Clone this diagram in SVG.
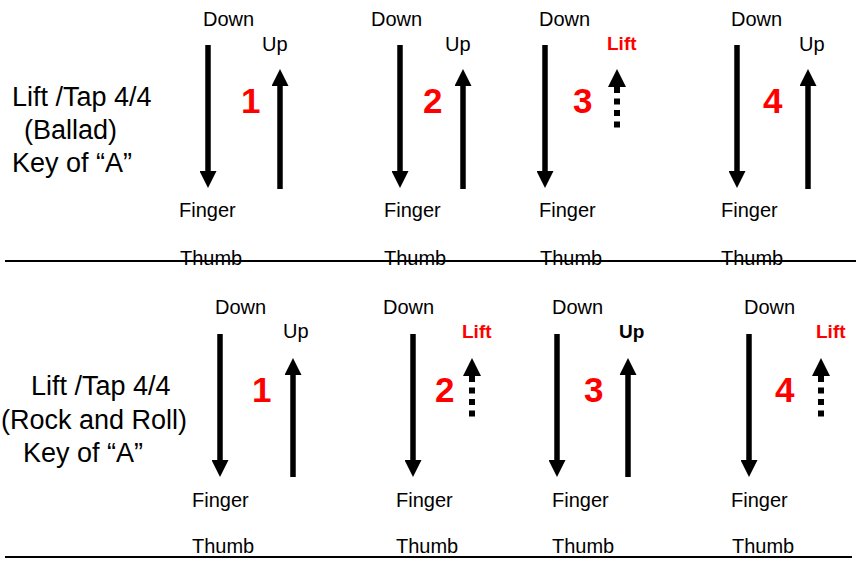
<svg xmlns="http://www.w3.org/2000/svg" width="856" height="561" viewBox="0 0 856 561">
<style>
text{font-family:"Liberation Sans",Arial,Helvetica,sans-serif;fill:#000}
.lbl{font-size:20px}
.title{font-size:27px}
.num{font-size:35px;font-weight:bold;fill:#ff0000}
.lift{font-size:19px;font-weight:bold;fill:#ff0000}
.upb{font-size:19px;font-weight:bold}
.sh{stroke:#000;stroke-width:5.5;fill:none}
.dsh{stroke:#000;stroke-width:6;fill:none;stroke-dasharray:6 5.5}
.rule{stroke:#000;stroke-width:2}
</style>
<defs>
<marker id="ah" markerUnits="userSpaceOnUse" viewBox="0 0 17 17" markerWidth="17" markerHeight="17" refX="0" refY="8.5" orient="auto">
<path d="M0,0 L17,8.5 L0,17 Z" fill="#000"/>
</marker>
<marker id="ahs" markerUnits="userSpaceOnUse" viewBox="0 0 18 18" markerWidth="18" markerHeight="18" refX="0" refY="9" orient="auto-start-reverse">
<path d="M0,0 L18,9 L0,18 Z" fill="#000"/>
</marker>
</defs>

<g id="rules">
<line class="rule" x1="5" y1="261" x2="856" y2="261"/>
<line class="rule" x1="5" y1="557" x2="852" y2="557"/>
</g>

<g id="title-ballad">
<text class="title" x="12" y="106">Lift /Tap 4/4</text>
<text class="title" x="24" y="139">(Ballad)</text>
<text class="title" x="12" y="172">Key of “A”</text>
</g>
<g id="title-rock">
<text class="title" x="31" y="395">Lift /Tap 4/4</text>
<text class="title" x="1" y="429">(Rock and Roll)</text>
<text class="title" x="23" y="462">Key of “A”</text>
</g>

<g id="connectors">
<!-- top row -->
<path class="sh" d="M208,45 V171" marker-end="url(#ah)"/>
<path class="sh" d="M280,189 V86" marker-end="url(#ah)"/>
<path class="sh" d="M400,45 V171" marker-end="url(#ah)"/>
<path class="sh" d="M463,189 V86" marker-end="url(#ah)"/>
<path class="sh" d="M545,45 V171" marker-end="url(#ah)"/>
<path class="dsh" d="M617,87 V128" marker-start="url(#ahs)"/>
<path class="sh" d="M737,45 V171" marker-end="url(#ah)"/>
<path class="sh" d="M808,189 V86" marker-end="url(#ah)"/>
<!-- bottom row -->
<path class="sh" d="M220,334 V460" marker-end="url(#ah)"/>
<path class="sh" d="M293,477 V375" marker-end="url(#ah)"/>
<path class="sh" d="M413,334 V460" marker-end="url(#ah)"/>
<path class="dsh" d="M472,376 V417" marker-start="url(#ahs)"/>
<path class="sh" d="M557,334 V460" marker-end="url(#ah)"/>
<path class="sh" d="M628,477 V375" marker-end="url(#ah)"/>
<path class="sh" d="M749,334 V460" marker-end="url(#ah)"/>
<path class="dsh" d="M821,376 V417" marker-start="url(#ahs)"/>
</g>

<g id="ballad-beat-1">
<text class="lbl" x="203" y="26">Down</text>
<text class="lbl" x="262" y="51">Up</text>
<text class="num" x="241" y="113">1</text>
<text class="lbl" x="179" y="217">Finger</text>
<text class="lbl" x="180" y="265">Thumb</text>
</g>
<g id="ballad-beat-2">
<text class="lbl" x="371" y="26">Down</text>
<text class="lbl" x="445" y="51">Up</text>
<text class="num" x="423" y="113">2</text>
<text class="lbl" x="384" y="217">Finger</text>
<text class="lbl" x="384" y="265">Thumb</text>
</g>
<g id="ballad-beat-3">
<text class="lbl" x="539" y="26">Down</text>
<text class="lift" x="607" y="50">Lift</text>
<text class="num" x="573" y="113">3</text>
<text class="lbl" x="539" y="217">Finger</text>
<text class="lbl" x="540" y="265">Thumb</text>
</g>
<g id="ballad-beat-4">
<text class="lbl" x="731" y="26">Down</text>
<text class="lbl" x="799" y="51">Up</text>
<text class="num" x="763" y="113">4</text>
<text class="lbl" x="721" y="217">Finger</text>
<text class="lbl" x="721" y="265">Thumb</text>
</g>

<g id="rock-beat-1">
<text class="lbl" x="215" y="314">Down</text>
<text class="lbl" x="283" y="338">Up</text>
<text class="num" x="252" y="402">1</text>
<text class="lbl" x="192" y="507">Finger</text>
<text class="lbl" x="192" y="553">Thumb</text>
</g>
<g id="rock-beat-2">
<text class="lbl" x="383" y="314">Down</text>
<text class="lift" x="462" y="338">Lift</text>
<text class="num" x="435" y="402">2</text>
<text class="lbl" x="396" y="507">Finger</text>
<text class="lbl" x="396" y="553">Thumb</text>
</g>
<g id="rock-beat-3">
<text class="lbl" x="552" y="314">Down</text>
<text class="upb" x="619" y="338">Up</text>
<text class="num" x="584" y="402">3</text>
<text class="lbl" x="552" y="507">Finger</text>
<text class="lbl" x="552" y="553">Thumb</text>
</g>
<g id="rock-beat-4">
<text class="lbl" x="744" y="314">Down</text>
<text class="lift" x="816" y="338">Lift</text>
<text class="num" x="775" y="402">4</text>
<text class="lbl" x="731" y="507">Finger</text>
<text class="lbl" x="732" y="553">Thumb</text>
</g>
</svg>
